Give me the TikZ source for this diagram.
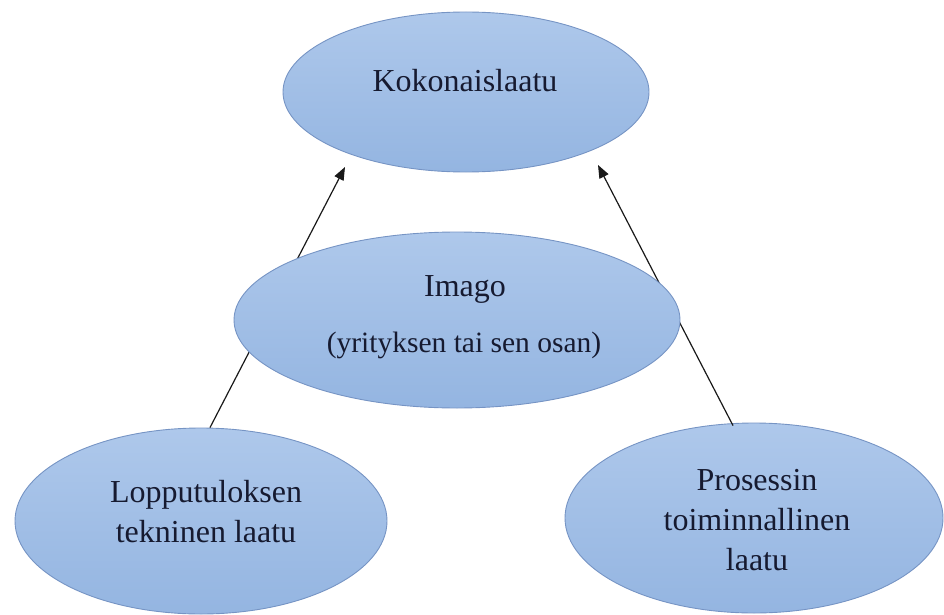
\documentclass[tikz,border=0pt]{standalone}
\usepackage{fontspec}
\setmainfont{Liberation Serif}
\usetikzlibrary{shapes.geometric,arrows.meta}
\definecolor{elltop}{RGB}{174,200,235}
\definecolor{ellbot}{RGB}{148,181,225}
\definecolor{elldraw}{RGB}{118,148,196}
\definecolor{txt}{RGB}{22,26,48}
\tikzset{
  oval/.style={ellipse, draw=elldraw, line width=0.9pt, top color=elltop, bottom color=ellbot, inner sep=0pt},
  lbl/.style={anchor=base, align=center, text=txt, font=\fontsize{32}{40}\selectfont, inner sep=0pt},
  conn/.style={draw={rgb,255:red,25;green,25;blue,25}, line width=1.2pt, -{Triangle[length=13pt,width=10pt]}}
}
\begin{document}
\begin{tikzpicture}[x=1pt,y=-1pt]
\useasboundingbox (0,0) rectangle (944,615);
% ellipse shapes (connectors are drawn behind the middle one)
\node[oval, minimum width=366pt, minimum height=160pt] (top) at (466,92) {};
\node[oval, minimum width=372pt, minimum height=186pt] (lb) at (201,521) {};
\node[oval, minimum width=378pt, minimum height=190pt] (rb) at (754,518) {};
\coordinate (t1) at (345,167);
\coordinate (t2) at (598,165);
\draw[conn] (lb.north) ++(9,0) coordinate (s1) -- (t1);
\draw[conn] (rb.north) ++(-21,3) coordinate (s2) -- (t2);
\node[oval, minimum width=446pt, minimum height=176pt] (mid) at (457,320) {};
% texts (anchor base = baseline of the last line)
\node[lbl] (ttop) at (465,92) {Kokonaislaatu};
\node[lbl] (timago) at (465,296) {Imago};
\node[lbl, font=\fontsize{29.5}{40}\selectfont] (tparen) at (464,352) {(yrityksen tai sen osan)};
\node[lbl] (tlb) at (206,542) {Lopputuloksen\\tekninen laatu};
\node[lbl] (trb) at (757,570) {Prosessin\\toiminnallinen\\laatu};
\end{tikzpicture}
\end{document}
